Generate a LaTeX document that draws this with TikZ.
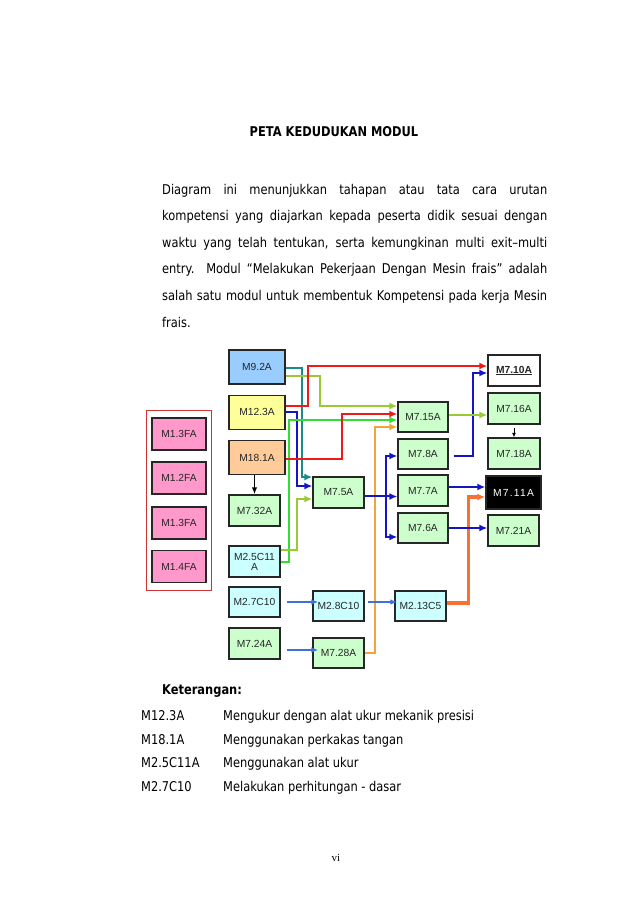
\documentclass[tikz,border=0pt]{standalone}
\usepackage{fontspec}
\setmainfont{Liberation Sans}
\newfontfamily\bodyfont{DejaVu Sans}[FakeStretch=0.85]
\newfontfamily\pagefont{Liberation Serif}
\newfontfamily\spacedfont{Liberation Sans}[LetterSpace=12]
\usetikzlibrary{arrows.meta,positioning,fit}
\definecolor{bluebox}{HTML}{99CCFF}
\definecolor{yellowbox}{HTML}{FFFF99}
\definecolor{peachbox}{HTML}{FFCC99}
\definecolor{pinkbox}{HTML}{FF99CC}
\definecolor{greenbox}{HTML}{CCFFCC}
\definecolor{cyanbox}{HTML}{CCFFFF}
\definecolor{lnteal}{HTML}{1A8A8A}
\definecolor{lnolive}{HTML}{99C933}
\definecolor{lnred}{HTML}{EE1A1A}
\definecolor{lnblue}{HTML}{1414C8}
\definecolor{lngreen}{HTML}{33DD33}
\definecolor{lnorange}{HTML}{F2A43A}
\definecolor{lndeep}{HTML}{F77232}
\definecolor{lnsky}{HTML}{3F6FDD}
\definecolor{framered}{HTML}{CC3333}

\begin{document}
\begin{tikzpicture}[
  x=1bp,y=-1bp,
  mod/.style={draw=black!85,line width=1.3bp,minimum width=51bp,
    minimum height=31bp,inner sep=1bp,align=center,text=black!85,
    font=\fontsize{10.3}{10.8}\selectfont},
  bigmod/.style={mod,minimum width=56bp,minimum height=34bp},
  leftmod/.style={mod,fill=pinkbox,minimum width=54bp,minimum height=32bp},
  conn/.style={-{Latex[length=8bp,width=7bp]},line width=2bp,draw=#1},
  thin/.style={-{Latex[length=7bp,width=5.5bp]},line width=1.3bp,draw=#1},
  body/.style={font=\bodyfont\fontsize{13.5}{26.7}\selectfont,inner sep=0pt},
]
\useasboundingbox[fill=white] (0,0) rectangle (638,902);

% judul dan pengantar
\node[body,font=\bodyfont\bfseries\fontsize{13.5}{16}\selectfont,anchor=base] (judul) at (334,136) {PETA KEDUDUKAN MODUL};
\node[body,anchor=base west,text width=385bp,align=justify] (intro) at (162,194)
  {Diagram ini menunjukkan tahapan atau tata cara urutan\linebreak
   kompetensi yang diajarkan kepada peserta didik sesuai dengan\linebreak
   waktu yang telah tentukan, serta kemungkinan multi exit–multi\linebreak
   entry. Modul “Melakukan Pekerjaan Dengan Mesin frais” adalah\linebreak
   salah satu modul untuk membentuk Kompetensi pada kerja Mesin\linebreak
   frais.};

% kolom kiri
\node[leftmod] (m13a) at (179,434) {M1.3FA};
\node[leftmod] (m12)  at (179,478) {M1.2FA};
\node[leftmod] (m13b) at (179,523) {M1.3FA};
\node[leftmod] (m14)  at (179,566.5) {M1.4FA};
\node[draw=framered,line width=0.8bp,fit=(m13a)(m14),inner xsep=4.5bp,inner ysep=7bp] (grp) {};

% kolom 1
\node[bigmod,fill=bluebox] (m92) at (257,367) {M9.2A};
\node[bigmod,fill=yellowbox,below=10bp of m92] (m123) {M12.3A};
\node[bigmod,fill=peachbox,below=10bp of m123] (m181) {M18.1A};
\node[mod,fill=greenbox] (m732) at (254.5,510.5) {M7.32A};
\node[mod,fill=cyanbox,font=\fontsize{10.3}{10}\selectfont] (m25c) at (254.5,561.5) {M2.5C11\\A};
\node[mod,fill=cyanbox,minimum height=30bp] (m27c) at (254.5,602) {M2.7C10};
\node[mod,fill=greenbox] (m724) at (254.5,643.5) {M7.24A};

% kolom 2
\node[mod,fill=greenbox] (m75) at (338.5,492.5) {M7.5A};
\node[mod,fill=cyanbox,minimum height=30bp] (m28c) at (338.5,606) {M2.8C10};
\node[mod,fill=greenbox,minimum height=30bp] (m728) at (338.5,653) {M7.28A};

% kolom 3
\node[mod,fill=greenbox,minimum width=50bp,minimum height=30bp] (m715) at (423,417) {M7.15A};
\node[mod,fill=greenbox,minimum width=50bp,minimum height=30bp] (m78) at (423,454) {M7.8A};
\node[mod,fill=greenbox,minimum width=50bp] (m77) at (423,490.5) {M7.7A};
\node[mod,fill=greenbox,minimum width=50bp,minimum height=30bp] (m76) at (423,528) {M7.6A};
\node[mod,fill=cyanbox,minimum height=30bp] (m213) at (420.5,606) {M2.13C5};

% kolom 4
\node[mod,fill=white,minimum width=52bp] (m710) at (514,370.5) {\textbf{\underline{M7.10A}}};
\node[mod,fill=greenbox,minimum width=52bp] (m716) at (514,408.5) {M7.16A};
\node[mod,fill=greenbox,minimum width=52bp] (m718) at (514,453.5) {M7.18A};
\node[mod,fill=black,text=white,minimum width=55bp,minimum height=33bp,
  font=\spacedfont\fontsize{10.3}{10.8}\selectfont] (m711) at (513.5,492.5) {M7.11A};
\node[mod,fill=greenbox] (m721) at (513.5,530.5) {M7.21A};

% penghubung
\draw[conn=lnteal] ([yshift=-1]m92.east) -- ++(16,0) |- ([yshift=15.5]m75.west);
\draw[conn=lnolive] ([yshift=-9]m92.east) -- ++(34,0) |- ([yshift=11]m715.west);
\draw[conn=lnred] ([yshift=6]m123.east) -- ++(22,0) |- ([yshift=4.5]m710.west);
\draw[conn=lnblue] (m123.east) -- ++(11,0) |- ([yshift=6.5]m75.west);
\draw[conn=lngreen] (m25c.east) -- ++(8,0) |- ([yshift=-3]m715.west);
\draw[conn=lnolive] ([yshift=11.5]m25c.east) -- ++(16,0) |- ([yshift=-6.5]m75.west);
\draw[conn=lnred] ([yshift=-1]m181.east) -- ++(56,0) |- ([yshift=3]m715.west);
\draw[conn=lnorange] (m728.east) -- ++(10,0) |- ([yshift=-10]m715.west);
\draw[conn=lnblue] ([yshift=-4]m75.east) -- ++(21,0) coordinate (j75) -- (j75 -| m77.west);
\draw[conn=lnblue] (j75) |- ([yshift=-2]m78.west);
\draw[conn=lnblue] (j75) |- ([yshift=-9]m76.west);
\draw[conn=lnblue] ([xshift=5,yshift=-2]m78.east) -- ++(19,0) |- ([yshift=-2.5]m710.west);
\draw[conn=lnolive] ([yshift=2]m715.east) -- ([yshift=2]m715.east -| m716.west);
\draw[thin=black,line width=0.9bp,-{Latex[length=4.5bp,width=4bp]}] ([yshift=-3]m716.south) -- (m718.north);
\draw[thin=black,line width=1.4bp] (m732.north |- m181.south) -- (m732.north);
\draw[conn=lnblue] ([yshift=3.5]m77.east) -- ([yshift=3.5]m77.east -| m711.west);
\draw[conn=lndeep,line width=3.5bp] ([yshift=3]m213.east) -- ++(22,0) |- ([yshift=-4.5]m711.west);
\draw[conn=lnblue] (m76.east) -- (m76.east -| m721.west);
\draw[thin=lnsky] ([xshift=6]m27c.east) -- ([xshift=6]m27c.east -| m28c.west);
\draw[thin=lnsky] ([xshift=3,yshift=4]m28c.east) -- ([xshift=3,yshift=4]m28c.east -| m213.west);
\draw[thin=lnsky] ([xshift=6,yshift=-6.5]m724.east) -- ([xshift=6,yshift=-6.5]m724.east -| m728.west);

% keterangan
\node[body,font=\bodyfont\bfseries\fontsize{13.5}{16}\selectfont,anchor=base west] (ket) at (162,694) {Keterangan:};
\foreach \kode/\arti [count=\i from 0] in {M12.3A/Mengukur dengan alat ukur mekanik presisi,
    M18.1A/Menggunakan perkakas tangan,
    M2.5C11A/Menggunakan alat ukur,
    M2.7C10/Melakukan perhitungan - dasar}{
  \node[body,anchor=base west] (kode\i) at (141,720.5+23.5*\i) {\kode};
  \node[body,anchor=base west] (arti\i) at (223,720.5+23.5*\i) {\arti};
}

\node[font=\pagefont\fontsize{11}{13}\selectfont,anchor=base,inner sep=0pt] (hal) at (336,861) {vi};
\end{tikzpicture}
\end{document}
